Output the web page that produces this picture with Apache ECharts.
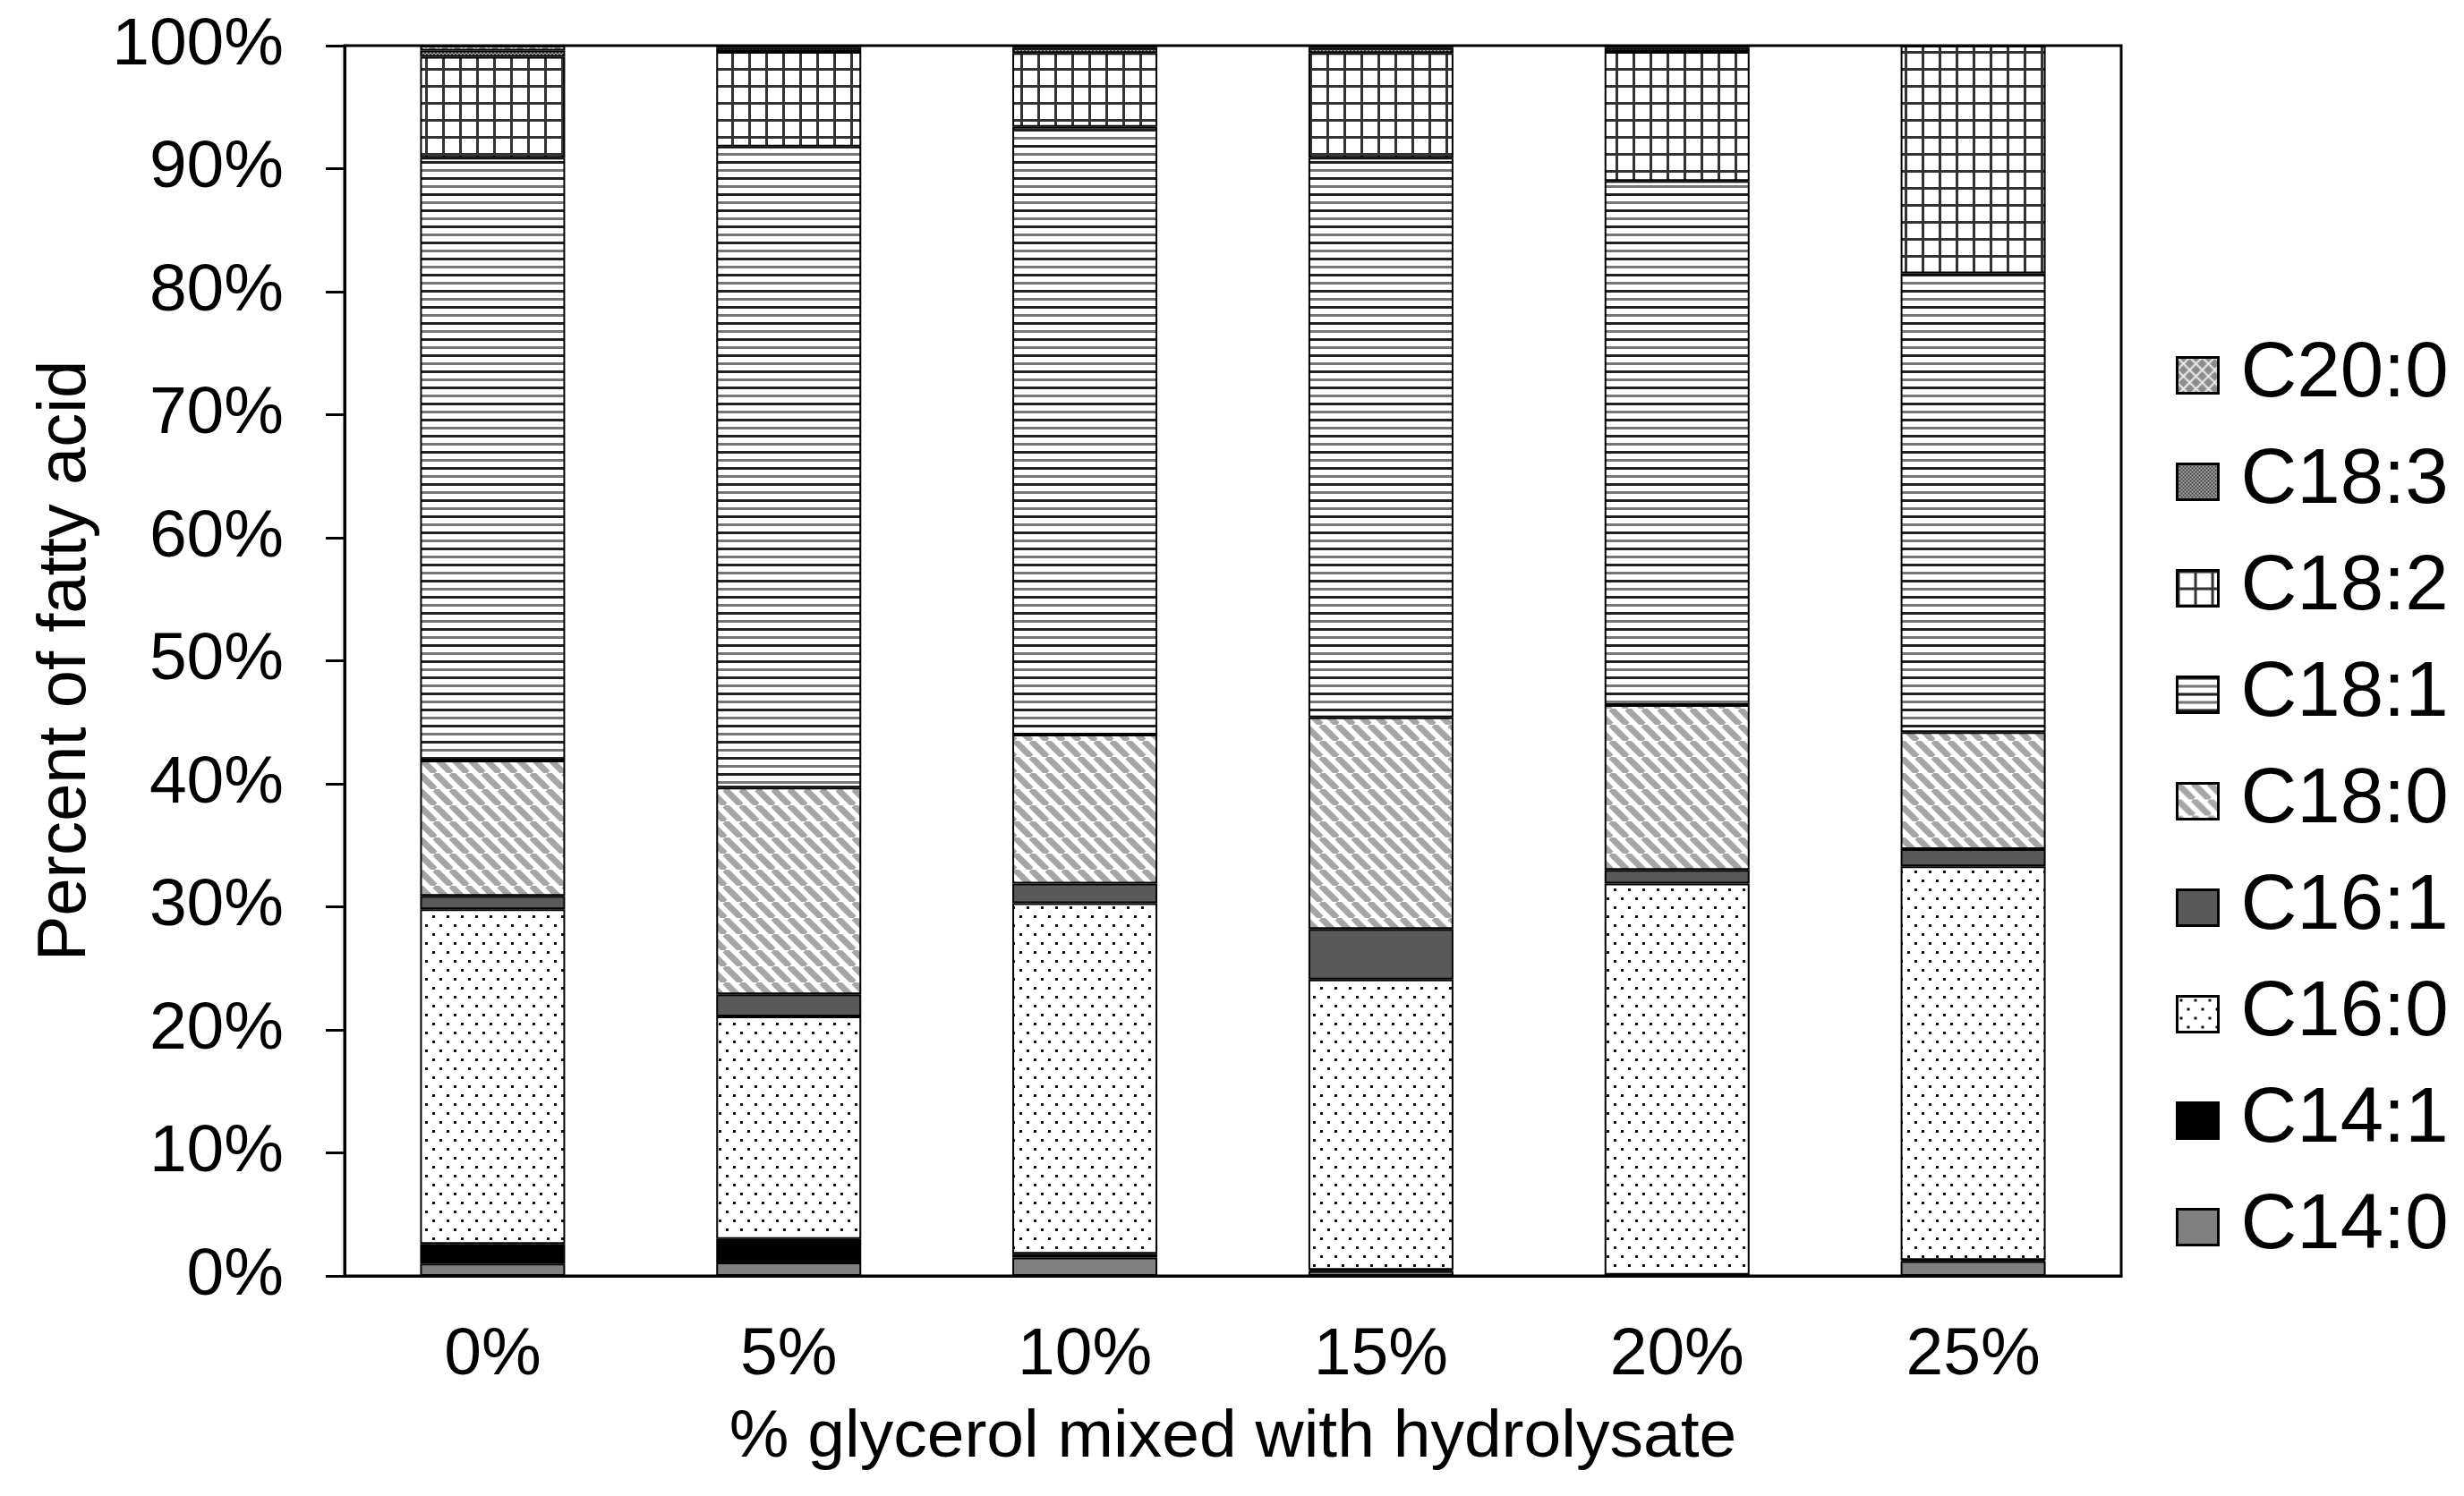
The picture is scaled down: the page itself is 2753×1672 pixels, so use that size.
<!DOCTYPE html>
<html>
<head>
<meta charset="utf-8">
<script src="https://cdn.jsdelivr.net/npm/echarts@6/dist/echarts.min.js"></script>
<style>
html,body{margin:0;padding:0;background:#fff;}
#chart{width:2753px;height:1672px;}
</style>
</head>
<body>
<div id="chart"></div>
<script>
// ---- data ----
const categories = ['0%', '5%', '10%', '15%', '20%', '25%'];
const seriesNames = ['C14:0', 'C14:1', 'C16:0', 'C16:1', 'C18:0', 'C18:1', 'C18:2', 'C18:3', 'C20:0'];
const C14_0 = [1.0, 1.1, 1.5, 0.4, 0.1, 1.2];
const C14_1 = [1.6, 1.9, 0.3, 0.1, 0.0, 0.1];
const C16_0 = [27.2, 18.1, 28.5, 23.6, 31.8, 32.0];
const C16_1 = [1.1, 1.8, 1.6, 4.1, 1.1, 1.4];
const C18_0 = [11.0, 16.8, 12.1, 17.2, 13.4, 9.5];
const C18_1 = [49.0, 52.1, 49.4, 45.5, 42.6, 37.3];
const C18_2 = [8.2, 7.7, 6.0, 8.5, 10.5, 18.5];
const C18_3 = [0.5, 0.3, 0.4, 0.4, 0.3, 0.0];
const C20_0 = [0.4, 0.2, 0.2, 0.2, 0.2, 0.0];
const yTicks = [0, 10, 20, 30, 40, 50, 60, 70, 80, 90, 100];
const seriesValues = [C14_0, C14_1, C16_0, C16_1, C18_0, C18_1, C18_2, C18_3, C20_0];

// ---- patterns ----
function pat(w, h, fn) {
  const c = document.createElement('canvas');
  c.width = w; c.height = h;
  const g = c.getContext('2d');
  fn(g, w, h);
  return { image: c, repeat: 'repeat' };
}
const fills = {
  'C14:0': '#808080',
  'C14:1': '#000000',
  'C16:0': pat(16, 20, (g, w, h) => {
    g.fillStyle = '#fff'; g.fillRect(0, 0, w, h);
    g.fillStyle = '#111';
    g.fillRect(3, 3, 3, 3); g.fillRect(11, 13, 3, 3);
  }),
  'C16:1': '#595959',
  'C18:0': pat(18, 18, (g, w, h) => {
    g.fillStyle = '#fff'; g.fillRect(0, 0, w, h);
    g.strokeStyle = '#a6a6a6'; g.lineWidth = 7;
    [-18, 0, 18].forEach(k => { g.beginPath(); g.moveTo(k, 0); g.lineTo(k + 18, 18); g.stroke(); });
  }),
  'C18:1': pat(8, 18, (g, w, h) => {
    g.fillStyle = '#fff'; g.fillRect(0, 0, w, h);
    g.fillStyle = '#222'; g.fillRect(0, 0, w, 3);
    g.fillStyle = '#777'; g.fillRect(0, 9, w, 3);
  }),
  'C18:2': pat(19, 19, (g, w, h) => {
    g.fillStyle = '#fff'; g.fillRect(0, 0, w, h);
    g.fillStyle = '#333'; g.fillRect(0, 0, w, 3); g.fillRect(0, 0, 3, h);
  }),
  'C18:3': pat(4, 4, (g, w, h) => {
    g.fillStyle = '#aaa'; g.fillRect(0, 0, w, h);
    g.fillStyle = '#444'; g.fillRect(0, 0, 2, 2); g.fillRect(2, 2, 2, 2);
  }),
  'C20:0': pat(14, 14, (g, w, h) => {
    g.fillStyle = '#8c8c8c'; g.fillRect(0, 0, w, h);
    g.strokeStyle = '#eee'; g.lineWidth = 2;
    g.beginPath(); g.moveTo(0, 0); g.lineTo(w, h); g.moveTo(w, 0); g.lineTo(0, h); g.stroke();
  })
};

const FONT = '"Liberation Sans", Arial, sans-serif';

const series = seriesNames.map((name, i) => ({
  name: name,
  type: 'bar',
  stack: 'total',
  barWidth: 162,
  data: seriesValues[i],
  itemStyle: { color: fills[name], borderColor: '#000', borderWidth: 2 },
  emphasis: { disabled: true }
}));

const chart = echarts.init(document.getElementById('chart'));
chart.setOption({
  backgroundColor: '#fff',
  animation: false,
  grid: { left: 385, right: 383, top: 51, bottom: 246, show: true, borderColor: '#000', borderWidth: 3, backgroundColor: 'transparent' },
  legend: {
    orient: 'vertical',
    left: 2426,
    top: 371,
    icon: 'rect',
    itemWidth: 46,
    itemHeight: 40,
    itemGap: 32,
    data: seriesNames.slice().reverse(),
    itemStyle: { borderColor: '#000', borderWidth: 3 },
    textStyle: { fontFamily: FONT, fontSize: 87, color: '#000', padding: [0, 0, 0, 20] },
    selectedMode: false
  },
  xAxis: {
    type: 'category',
    data: categories,
    name: '% glycerol mixed with hydrolysate',
    nameLocation: 'middle',
    nameGap: 144,
    nameTextStyle: { fontFamily: FONT, fontSize: 75, color: '#000' },
    axisLine: { lineStyle: { color: '#000', width: 3 } },
    axisTick: { show: false },
    axisLabel: { fontFamily: FONT, fontSize: 75, color: '#000', margin: 52 }
  },
  yAxis: {
    type: 'value',
    min: 0,
    max: 100,
    interval: 10,
    name: 'Percent of fatty acid',
    nameLocation: 'middle',
    nameGap: 273,
    nameTextStyle: { fontFamily: FONT, fontSize: 76, color: '#000' },
    axisLine: { show: true, lineStyle: { color: '#000', width: 3 } },
    axisTick: { show: true, length: 21, lineStyle: { color: '#000', width: 3 } },
    splitLine: { show: false },
    axisLabel: {
      fontFamily: FONT, fontSize: 75, color: '#000', margin: 68,
      formatter: v => (yTicks.indexOf(v) >= 0 ? v + '%' : '')
    }
  },
  series: series
});
</script>
</body>
</html>
